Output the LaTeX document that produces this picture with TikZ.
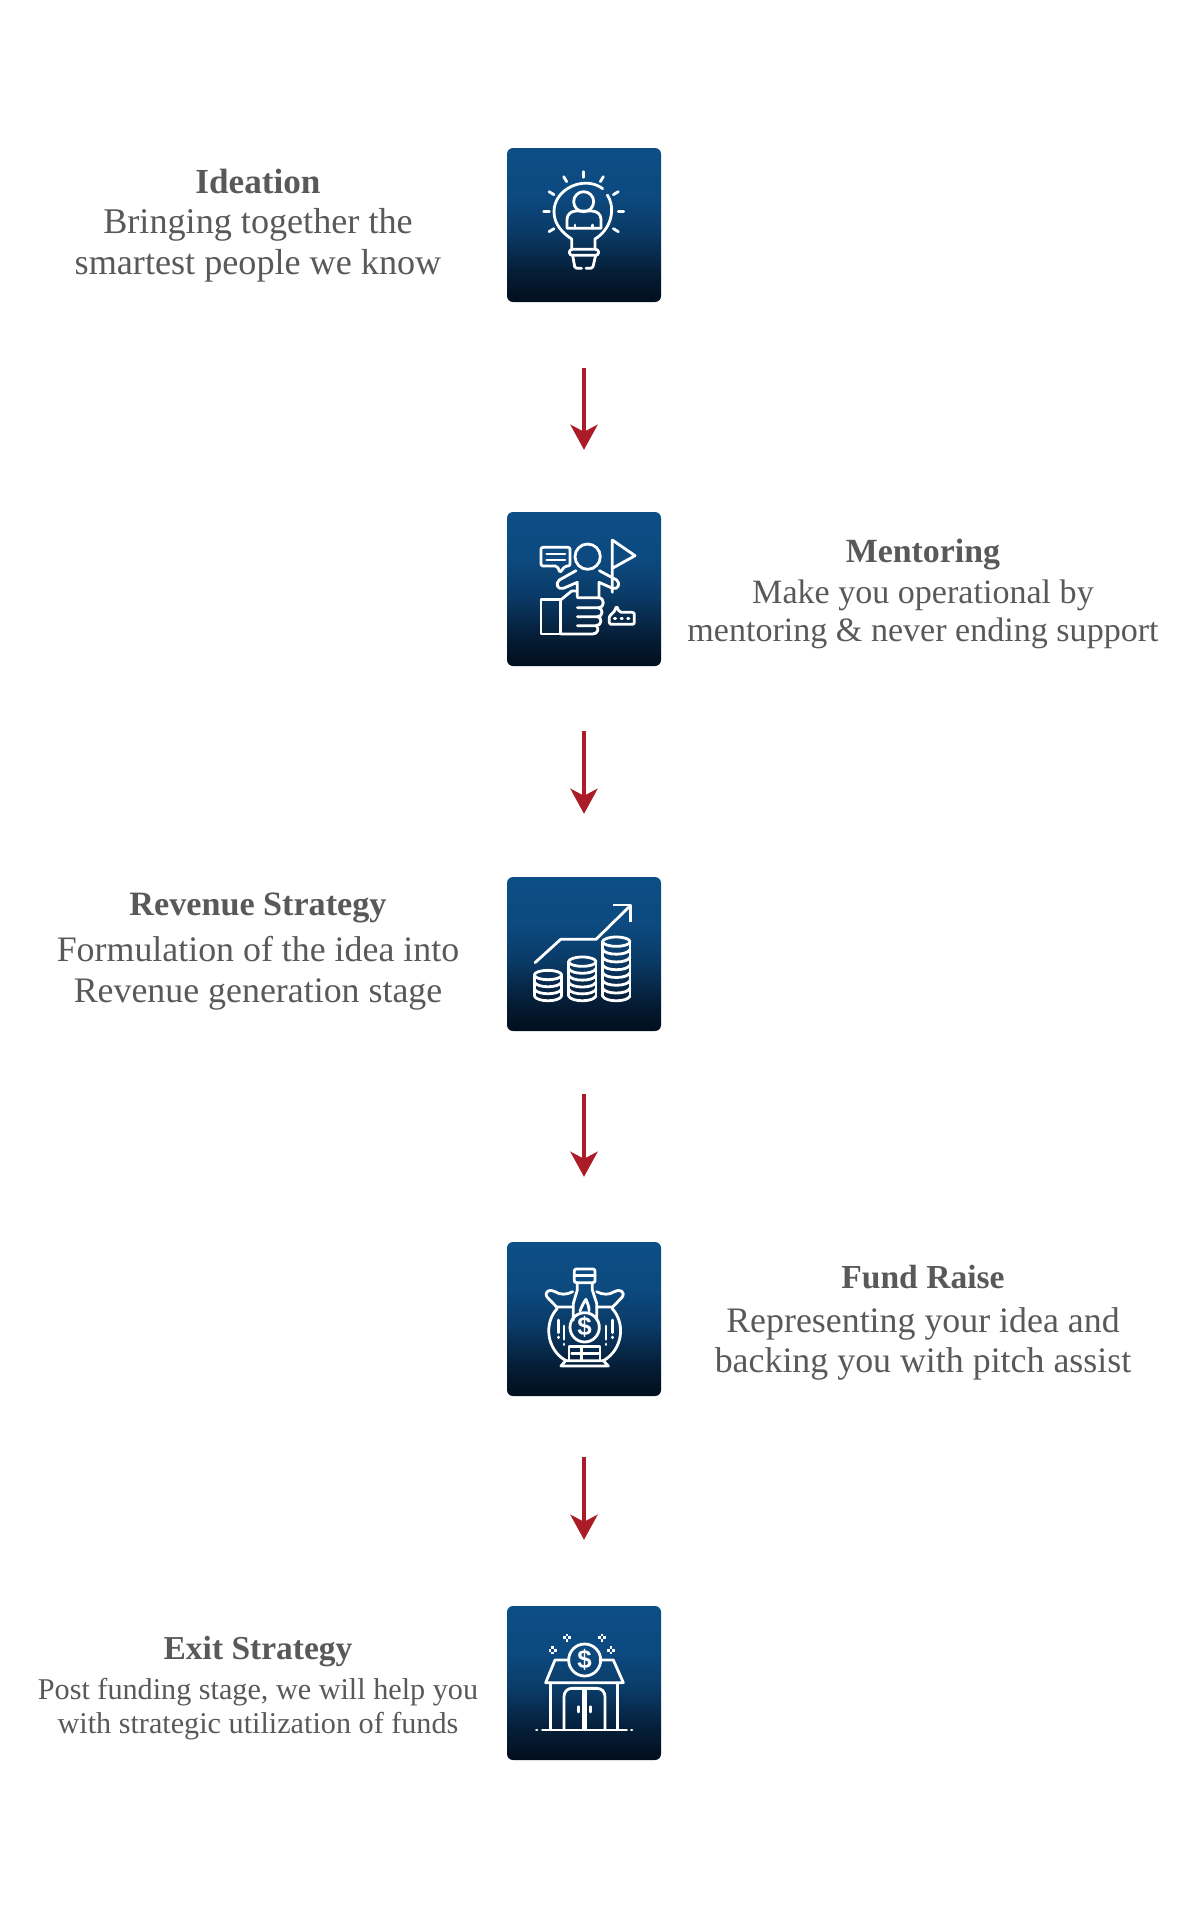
\documentclass[tikz,border=0pt]{standalone}
\usepackage{fontspec}
\setmainfont{Liberation Serif}
\newfontfamily\dollarfont{Liberation Sans}
\usetikzlibrary{arrows.meta}
\definecolor{txt}{HTML}{595959}
\definecolor{flowred}{HTML}{AA1C28}
\definecolor{gA}{HTML}{0D4E86}
\definecolor{gB}{HTML}{0C4A80}
\definecolor{gC}{HTML}{0A3A66}
\definecolor{gD}{HTML}{051E38}
\definecolor{gE}{HTML}{020E1C}
\pgfdeclareverticalshading{boxgrad}{100bp}{color(0bp)=(gE); color(25bp)=(gE); color(35bp)=(gD); color(47.5bp)=(gC); color(60bp)=(gB); color(75bp)=(gA); color(100bp)=(gA)}
\tikzset{
  stage/.style={minimum size=154bp,inner sep=0pt,rounded corners=6bp,shading=boxgrad,draw=none},
  flow/.style={draw=flowred,fill=flowred,line width=4.5bp,-{Stealth[inset=7bp,length=25bp,width=27bp]}},
  caption/.style={text=txt,align=center,inner sep=0pt,anchor=base},
  icon/.style={draw=white,line width=2.8bp,line join=round,line cap=round,fill=none},
  iconzoom/.style={x=0.33333bp,y=-0.33333bp},
  dollar/.style={text=white,inner sep=0pt,font=\dollarfont\bfseries\fontsize{26}{26}\selectfont}
}
\newcommand{\headline}[2]{\textbf{\fontsize{#1}{#1}\selectfont #2}}
\newcommand{\coinstack}[5]{%
  \draw[icon] (#1,#2) ellipse [x radius=#4,y radius=14];
  \draw[icon] (#1-#4,#2) -- (#1-#4,{#2+#3*#5});
  \draw[icon] (#1+#4,#2) -- (#1+#4,{#2+#3*#5});
  \foreach \k in {1,...,#3}{
    \draw[icon] (#1-#4,{#2+\k*#5}) .. controls (#1-#4+8,{#2+\k*#5+19}) and (#1+#4-8,{#2+\k*#5+19}) .. (#1+#4,{#2+\k*#5});
  }
}
\begin{document}
\begin{tikzpicture}[x=1bp,y=-1bp]
\useasboundingbox (0,0) rectangle (1200,1920);
% boxes
\node[stage] (b1) at (584,225) {};
\node[stage] (b2) at (584,589) {};
\node[stage] (b3) at (584,954) {};
\node[stage] (b4) at (584,1319) {};
\node[stage] (b5) at (584,1683) {};
% connectors
\draw[flow,shorten <=66bp,shorten >=62bp] (b1.south) -- (b2.north);
\draw[flow,shorten <=65bp,shorten >=63bp] (b2.south) -- (b3.north);
\draw[flow,shorten <=63bp,shorten >=65bp] (b3.south) -- (b4.north);
\draw[flow,shorten <=61bp,shorten >=66bp] (b4.south) -- (b5.north);
% captions
\node[caption,font=\fontsize{36.3}{38}\selectfont] (t1) at (258,274) {\headline{35.3}{Ideation}\\[2bp]Bringing together the\\[3bp]smartest people we know};
\node[caption,font=\fontsize{34.2}{38}\selectfont] (t2) at (923,641) {\headline{34}{Mentoring}\\[3bp]Make you operational by\\mentoring \& never ending support};
\node[caption,font=\fontsize{36}{38}\selectfont] (t3) at (258,1002) {\headline{34.3}{Revenue Strategy}\\[8bp]Formulation of the idea into\\[3bp]Revenue generation stage};
\node[caption,font=\fontsize{36}{38}\selectfont] (t4) at (923,1372) {\headline{33.7}{Fund Raise}\\[6bp]Representing your idea and\\[2bp]backing you with pitch assist};
\node[caption,font=\fontsize{30.3}{34}\selectfont] (t5) at (258,1733) {\headline{33.6}{Exit Strategy}\\[6bp]Post funding stage, we will help you\\with strategic utilization of funds};
% icon 1
\begin{scope}[shift={(500,140)},iconzoom]
  \foreach \a/\b/\c/\d in {251/95/251/112,191/110/200/125,310/110/301/125,147/155/162/164,355/155/340/164,131/214/148/214,355/214/371/214,147/275/162/266,355/275/340/266}
    \draw[icon] (\a,\b) -- (\c,\d);
  \draw[icon] (308,146) .. controls (255,105) and (162,145) .. (162,215) .. controls (162,255) and (190,280) .. (215,297) -- (215,325);
  \draw[icon] (322,165) .. controls (350,210) and (330,270) .. (285,297) -- (285,325);
  \draw[icon,rounded corners=3bp] (208,328) rectangle (296,346);
  \draw[icon] (218,346) -- (224,380) .. controls (225,385) and (230,385) .. (245,385);
  \draw[icon] (258,385) .. controls (273,385) and (278,385) .. (279,380) -- (287,346);
  \draw[icon] (251,185) circle [radius=30];
  \draw[icon] (201,265) -- (201,238) .. controls (201,222) and (215,213) .. (228,213) -- (275,213) .. controls (290,213) and (303,222) .. (303,238) -- (303,265) -- cycle;
  \draw[icon] (225,265) -- (225,255) (278,265) -- (278,255);
\end{scope}
% icon 2
\begin{scope}[shift={(500,505)},iconzoom]
  \draw[icon,rounded corners=2bp] (123,127) -- (210,127) -- (210,183) -- (195,183) -- (180,203) -- (172,183) -- (123,183) -- cycle;
  \draw[icon] (140,147) -- (195,147) (140,165) -- (195,165);
  \draw[icon] (263,155) circle [radius=38];
  \draw[icon] (337,262) -- (337,105) -- (405,152) -- (337,190);
  \draw[icon] (228,197) -- (178,225) .. controls (165,235) and (172,255) .. (190,250) -- (232,232) -- (232,275);
  \draw[icon] (298,197) -- (350,225) .. controls (362,235) and (355,255) .. (338,250) -- (297,232) -- (297,275);
  \draw[icon] (123,283) rectangle (182,387);
  \draw[icon] (182,285) -- (215,258) -- (232,258);
  \draw[icon] (232,278) -- (295,278) .. controls (315,278) and (315,308) .. (295,308) -- (232,308);
  \draw[icon] (295,308) .. controls (310,310) and (310,335) .. (293,335) -- (232,335);
  \draw[icon] (293,335) .. controls (308,338) and (305,362) .. (288,362) -- (232,362);
  \draw[icon] (288,362) .. controls (298,368) and (295,387) .. (278,387) -- (182,387);
  \draw[icon,rounded corners=2bp] (328,358) -- (328,330) -- (340,325) -- (350,303) -- (358,322) -- (403,322) -- (403,358) -- cycle;
  \draw[icon] (343,340) -- (347,340) (363,340) -- (367,340) (383,340) -- (387,340);
\end{scope}
% icon 3
\begin{scope}[shift={(500,870)},iconzoom]
  \draw[icon] (105,278) -- (182,208) -- (288,208) -- (390,108);
  \draw[icon,line cap=butt] (340,105) -- (392,105) -- (392,157);
  \coinstack{144}{315}{3}{41}{21}
  \coinstack{247}{275}{5}{41}{20.6}
  \coinstack{349}{215}{7}{41}{23.3}
\end{scope}
% icon 4
\begin{scope}[shift={(500,1240)},iconzoom]
  \draw[icon,rounded corners=2bp] (223,87) rectangle (285,128);
  \draw[icon] (223,107) -- (285,107);
  \draw[icon] (232,128) -- (232,150) -- (220,190) -- (220,240);
  \draw[icon] (277,128) -- (277,150) -- (290,190) -- (290,240);
  \draw[icon] (240,213) .. controls (245,200) and (252,185) .. (258,178) .. controls (262,190) and (268,200) .. (267,213);
  \draw[icon] (218,201) -- (170,201) -- (142,172) .. controls (130,155) and (150,145) .. (165,155) .. controls (180,165) and (200,165) .. (218,155);
  \draw[icon] (290,201) -- (338,201) -- (366,172) .. controls (378,155) and (358,145) .. (343,155) .. controls (328,165) and (308,165) .. (290,155);
  \draw[icon] (172,205) .. controls (130,250) and (140,330) .. (198,362);
  \draw[icon] (336,205) .. controls (378,250) and (368,330) .. (310,362);
  \draw[icon] (254,262) circle [radius=44];
  \node[dollar] (d4) at (254,262) {\$};
  \draw[icon] (175,240) -- (175,278) (192,258) -- (192,298) (337,240) -- (337,278) (318,258) -- (318,298);
  \draw[icon] (175,291) -- (175,293) (192,312) -- (192,314) (337,291) -- (337,293) (318,312) -- (318,314);
  \draw[icon] (207,362) -- (207,320) -- (300,320) -- (300,362);
  \draw[icon] (215,340) -- (295,340) (245,322) -- (245,340) (245,340) -- (245,358);
  \draw[icon] (183,378) -- (325,378) -- (310,362) -- (197,362) -- cycle;
\end{scope}
% icon 5
\begin{scope}[shift={(500,1605)},iconzoom]
  \foreach \cx/\cy in {201/98,306/98,158/136,333/136}{
    \draw[icon,line cap=butt] (\cx-12,\cy) -- (\cx-4,\cy) (\cx+4,\cy) -- (\cx+12,\cy) (\cx,\cy-12) -- (\cx,\cy-4) (\cx,\cy+4) -- (\cx,\cy+12);
  }
  \draw[icon] (254,165) circle [radius=48];
  \node[dollar] (d5) at (254,165) {\$};
  \draw[icon] (207,165) -- (165,165) -- (137,233) -- (370,233) -- (340,165) -- (300,165);
  \draw[icon] (152,233) -- (152,372) (353,233) -- (353,372);
  \draw[icon] (127,375) -- (380,375);
  \draw[icon] (109,375) -- (111,375) (394,375) -- (396,375);
  \draw[icon] (192,372) -- (192,275) .. controls (192,260) and (203,250) .. (215,250) -- (290,250) .. controls (305,250) and (315,260) .. (315,275) -- (315,372);
  \draw[icon] (250,250) -- (250,372) (258,250) -- (258,372);
  \draw[icon] (235,305) -- (235,321) (272,305) -- (272,321);
\end{scope}
\end{tikzpicture}
\end{document}
